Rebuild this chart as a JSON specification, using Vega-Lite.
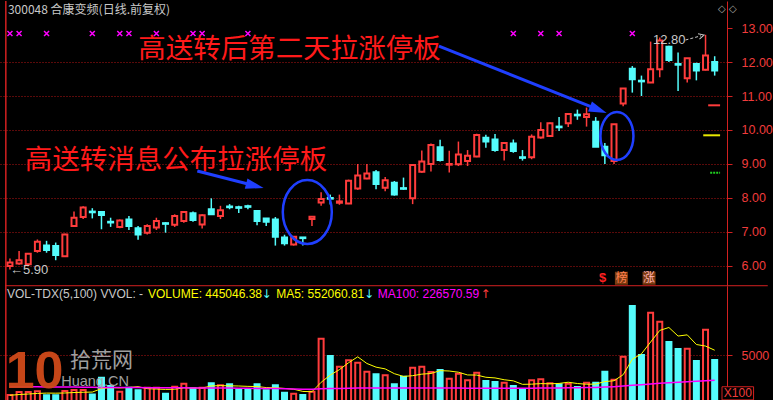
{
"$schema": "https://vega.github.io/schema/vega-lite/v6.json",
"background": "#000000",
"padding": 0,
"autosize": {"type": "pad"},
"spacing": 0,
"bounds": "flush",
"config": {"view": {"stroke": null}, "concat": {"spacing": 0}},
"datasets": {"k": [
{"i":0,"o":6.00,"h":6.22,"l":5.90,"c":6.10,"v":65000,"ma5":62000,"ma100":155000,"flag":1},
{"i":1,"o":6.07,"h":6.44,"l":6.04,"c":6.17,"v":98000,"ma5":70000,"ma100":155000,"flag":1},
{"i":2,"o":6.05,"h":6.38,"l":6.03,"c":6.36,"v":98000,"ma5":76000,"ma100":154000,"flag":0},
{"i":3,"o":6.44,"h":6.78,"l":6.39,"c":6.71,"v":105000,"ma5":82000,"ma100":154000,"flag":0},
{"i":4,"o":6.60,"h":6.74,"l":6.39,"c":6.47,"v":62000,"ma5":86000,"ma100":153000,"flag":1},
{"i":5,"o":6.59,"h":6.69,"l":6.17,"c":6.32,"v":62000,"ma5":85000,"ma100":152000,"flag":0},
{"i":6,"o":6.29,"h":6.95,"l":6.28,"c":6.93,"v":109000,"ma5":87000,"ma100":152000,"flag":0},
{"i":7,"o":7.18,"h":7.60,"l":7.17,"c":7.42,"v":120000,"ma5":92000,"ma100":151000,"flag":0},
{"i":8,"o":7.44,"h":7.76,"l":7.38,"c":7.72,"v":120000,"ma5":95000,"ma100":150000,"flag":0},
{"i":9,"o":7.60,"h":7.70,"l":7.40,"c":7.58,"v":72000,"ma5":97000,"ma100":149000,"flag":1},
{"i":10,"o":7.59,"h":7.60,"l":7.08,"c":7.50,"v":253000,"ma5":135000,"ma100":148000,"flag":0},
{"i":11,"o":7.30,"h":7.42,"l":7.15,"c":7.28,"v":163000,"ma5":146000,"ma100":148000,"flag":0},
{"i":12,"o":7.15,"h":7.37,"l":7.11,"c":7.34,"v":101000,"ma5":142000,"ma100":147000,"flag":1},
{"i":13,"o":7.37,"h":7.47,"l":7.06,"c":7.18,"v":145000,"ma5":147000,"ma100":147000,"flag":1},
{"i":14,"o":7.11,"h":7.18,"l":6.77,"c":6.93,"v":116000,"ma5":156000,"ma100":146000,"flag":0},
{"i":15,"o":6.98,"h":7.23,"l":6.93,"c":7.18,"v":145000,"ma5":134000,"ma100":145000,"flag":0},
{"i":16,"o":7.13,"h":7.42,"l":7.06,"c":7.32,"v":145000,"ma5":130000,"ma100":145000,"flag":1},
{"i":17,"o":7.26,"h":7.29,"l":6.98,"c":7.24,"v":80000,"ma5":126000,"ma100":144000,"flag":0},
{"i":18,"o":7.21,"h":7.52,"l":7.15,"c":7.47,"v":156000,"ma5":128000,"ma100":144000,"flag":0},
{"i":19,"o":7.32,"h":7.62,"l":7.27,"c":7.59,"v":188000,"ma5":143000,"ma100":143000,"flag":0},
{"i":20,"o":7.55,"h":7.60,"l":7.30,"c":7.35,"v":138000,"ma5":141000,"ma100":142000,"flag":1},
{"i":21,"o":7.22,"h":7.52,"l":7.10,"c":7.49,"v":145000,"ma5":141000,"ma100":142000,"flag":1},
{"i":22,"o":7.67,"h":7.99,"l":7.50,"c":7.52,"v":192000,"ma5":164000,"ma100":141000,"flag":0},
{"i":23,"o":7.47,"h":7.77,"l":7.38,"c":7.64,"v":170000,"ma5":167000,"ma100":140000,"flag":0},
{"i":24,"o":7.75,"h":7.82,"l":7.67,"c":7.73,"v":181000,"ma5":165000,"ma100":140000,"flag":0},
{"i":25,"o":7.73,"h":7.77,"l":7.56,"c":7.71,"v":127000,"ma5":163000,"ma100":139000,"flag":0},
{"i":26,"o":7.76,"h":7.80,"l":7.67,"c":7.74,"v":127000,"ma5":159000,"ma100":138000,"flag":1},
{"i":27,"o":7.62,"h":7.63,"l":7.20,"c":7.32,"v":181000,"ma5":157000,"ma100":137000,"flag":0},
{"i":28,"o":7.40,"h":7.41,"l":7.18,"c":7.30,"v":116000,"ma5":146000,"ma100":136000,"flag":0},
{"i":29,"o":7.37,"h":7.44,"l":6.60,"c":6.86,"v":170000,"ma5":144000,"ma100":135000,"flag":0},
{"i":30,"o":6.84,"h":6.92,"l":6.60,"c":6.67,"v":91000,"ma5":137000,"ma100":133000,"flag":0},
{"i":31,"o":6.63,"h":6.87,"l":6.60,"c":6.86,"v":80000,"ma5":128000,"ma100":131000,"flag":0},
{"i":32,"o":6.84,"h":6.85,"l":6.60,"c":6.82,"v":65000,"ma5":104000,"ma100":129000,"flag":0},
{"i":33,"o":7.38,"h":7.45,"l":7.18,"c":7.45,"v":100000,"ma5":101000,"ma100":128000,"flag":0},
{"i":34,"o":7.87,"h":8.17,"l":7.77,"c":7.97,"v":677000,"ma5":203000,"ma100":132000,"flag":0},
{"i":35,"o":8.00,"h":8.10,"l":7.81,"c":7.98,"v":489000,"ma5":282000,"ma100":135000,"flag":0},
{"i":36,"o":7.86,"h":8.10,"l":7.80,"c":7.90,"v":373000,"ma5":341000,"ma100":137000,"flag":0},
{"i":37,"o":7.84,"h":8.54,"l":7.82,"c":8.51,"v":442000,"ma5":416000,"ma100":139000,"flag":0},
{"i":38,"o":8.28,"h":9.00,"l":8.24,"c":8.66,"v":417000,"ma5":480000,"ma100":140000,"flag":0},
{"i":39,"o":8.57,"h":9.00,"l":8.55,"c":8.72,"v":319000,"ma5":408000,"ma100":141000,"flag":0},
{"i":40,"o":8.76,"h":8.82,"l":8.26,"c":8.41,"v":290000,"ma5":368000,"ma100":141000,"flag":0},
{"i":41,"o":8.30,"h":8.62,"l":8.20,"c":8.52,"v":279000,"ma5":349000,"ma100":141000,"flag":0},
{"i":42,"o":8.45,"h":8.50,"l":8.07,"c":8.10,"v":181000,"ma5":297000,"ma100":141000,"flag":0},
{"i":43,"o":8.29,"h":8.60,"l":8.24,"c":8.27,"v":264000,"ma5":267000,"ma100":141000,"flag":0},
{"i":44,"o":7.99,"h":9.00,"l":7.82,"c":8.97,"v":362000,"ma5":275000,"ma100":141000,"flag":0},
{"i":45,"o":8.77,"h":9.40,"l":8.74,"c":9.07,"v":373000,"ma5":292000,"ma100":141000,"flag":0},
{"i":46,"o":9.00,"h":9.60,"l":8.78,"c":9.56,"v":315000,"ma5":299000,"ma100":140000,"flag":0},
{"i":47,"o":9.49,"h":9.71,"l":9.07,"c":9.12,"v":337000,"ma5":330000,"ma100":140000,"flag":0},
{"i":48,"o":8.98,"h":9.39,"l":8.75,"c":9.00,"v":242000,"ma5":326000,"ma100":140000,"flag":0},
{"i":49,"o":8.99,"h":9.66,"l":8.94,"c":9.28,"v":297000,"ma5":313000,"ma100":140000,"flag":0},
{"i":50,"o":9.09,"h":9.41,"l":8.94,"c":9.24,"v":225000,"ma5":283000,"ma100":139000,"flag":0},
{"i":51,"o":9.22,"h":9.89,"l":9.20,"c":9.85,"v":308000,"ma5":282000,"ma100":139000,"flag":0},
{"i":52,"o":9.77,"h":9.86,"l":9.48,"c":9.66,"v":217000,"ma5":258000,"ma100":139000,"flag":0},
{"i":53,"o":9.72,"h":9.88,"l":9.36,"c":9.41,"v":207000,"ma5":251000,"ma100":138000,"flag":0},
{"i":54,"o":9.41,"h":9.64,"l":9.10,"c":9.62,"v":199000,"ma5":231000,"ma100":138000,"flag":0},
{"i":55,"o":9.60,"h":9.72,"l":9.33,"c":9.38,"v":163000,"ma5":219000,"ma100":138000,"flag":1},
{"i":56,"o":9.20,"h":9.41,"l":9.10,"c":9.18,"v":120000,"ma5":181000,"ma100":138000,"flag":0},
{"i":57,"o":9.20,"h":9.87,"l":9.14,"c":9.80,"v":225000,"ma5":183000,"ma100":139000,"flag":0},
{"i":58,"o":9.78,"h":10.23,"l":9.74,"c":10.00,"v":236000,"ma5":189000,"ma100":140000,"flag":1},
{"i":59,"o":9.82,"h":10.22,"l":9.80,"c":10.20,"v":192000,"ma5":187000,"ma100":141000,"flag":0},
{"i":60,"o":10.10,"h":10.38,"l":9.97,"c":10.08,"v":181000,"ma5":191000,"ma100":142000,"flag":1},
{"i":61,"o":10.20,"h":10.48,"l":10.09,"c":10.47,"v":188000,"ma5":204000,"ma100":143000,"flag":0},
{"i":62,"o":10.45,"h":10.60,"l":10.30,"c":10.43,"v":152000,"ma5":190000,"ma100":145000,"flag":0},
{"i":63,"o":10.38,"h":10.66,"l":10.10,"c":10.46,"v":199000,"ma5":182000,"ma100":146000,"flag":0},
{"i":64,"o":10.24,"h":10.38,"l":9.50,"c":9.51,"v":199000,"ma5":184000,"ma100":148000,"flag":0},
{"i":65,"o":9.51,"h":9.62,"l":9.00,"c":9.26,"v":319000,"ma5":211000,"ma100":152000,"flag":0},
{"i":66,"o":9.09,"h":10.18,"l":9.00,"c":10.17,"v":232000,"ma5":220000,"ma100":156000,"flag":0},
{"i":67,"o":10.78,"h":11.23,"l":10.70,"c":11.22,"v":482000,"ma5":286000,"ma100":162000,"flag":0},
{"i":68,"o":11.80,"h":11.88,"l":11.10,"c":11.49,"v":1033000,"ma5":453000,"ma100":170000,"flag":1},
{"i":69,"o":11.45,"h":11.60,"l":11.00,"c":11.43,"v":500000,"ma5":513000,"ma100":176000,"flag":0},
{"i":70,"o":11.40,"h":12.60,"l":11.38,"c":11.79,"v":960000,"ma5":641000,"ma100":184000,"flag":0},
{"i":71,"o":11.79,"h":12.72,"l":11.55,"c":12.63,"v":862000,"ma5":767000,"ma100":192000,"flag":0},
{"i":72,"o":12.45,"h":12.48,"l":12.00,"c":12.06,"v":641000,"ma5":799000,"ma100":199000,"flag":0},
{"i":73,"o":11.94,"h":12.28,"l":11.15,"c":11.92,"v":565000,"ma5":706000,"ma100":205000,"flag":0},
{"i":74,"o":11.52,"h":12.12,"l":11.40,"c":12.11,"v":569000,"ma5":719000,"ma100":210000,"flag":0},
{"i":75,"o":11.94,"h":11.98,"l":11.46,"c":11.75,"v":435000,"ma5":614000,"ma100":215000,"flag":0},
{"i":76,"o":11.77,"h":12.80,"l":11.75,"c":12.19,"v":775000,"ma5":597000,"ma100":221000,"flag":0},
{"i":77,"o":12.00,"h":12.17,"l":11.60,"c":11.75,"v":445046,"ma5":552061,"ma100":226571,"flag":0}
]},
"vconcat": [
{
"width": 727, "height": 285,
"data": {"name": "k"},
"layer": [
 {"mark": {"type": "rule", "strokeWidth": 1.5},
  "encoding": {
   "x": {"field": "i", "type": "quantitative", "scale": {"domain": [-0.54, 77.8], "nice": false, "zero": false}, "axis": null},
   "y": {"field": "l", "type": "quantitative", "scale": {"domain": [5.41176, 13.79412], "nice": false, "zero": false},
     "axis": {"orient": "right", "values": [6,7,8,9,10,11,12,13], "format": ".2f", "title": null, "labelColor": "#F03C3C", "labelFont": "Liberation Sans", "labelFontSize": 12.5, "labelPadding": 9, "labelFlush": false, "labelOverlap": false, "tickColor": "#D22020", "tickSize": 5, "domainColor": "#D22020", "grid": true, "gridColor": {"condition": {"test": "datum.value >= 13", "value": "rgba(0,0,0,0)"}, "value": "#B41414"}, "gridDash": [1, 2]}},
   "y2": {"field": "h"},
   "color": {"condition": {"test": "datum.c > datum.o", "value": "#FF3C3C"}, "value": "#54FCFC"}
  }},
 {"mark": {"type": "bar", "size": 5, "strokeWidth": 2},
  "encoding": {
   "x": {"field": "i", "type": "quantitative", "scale": {"domain": [-0.54, 77.8], "nice": false, "zero": false}, "axis": null},
   "y": {"field": "o", "type": "quantitative", "scale": {"domain": [5.41176, 13.79412], "nice": false, "zero": false}},
   "y2": {"field": "c"},
   "fill": {"condition": {"test": "datum.c > datum.o", "value": "#000000"}, "value": "#54FCFC"},
   "stroke": {"condition": {"test": "datum.c > datum.o", "value": "#FF3C3C"}, "value": "#54FCFC"}
  }},
 {"transform": [{"filter": "datum.flag == 1"}],
  "mark": {"type": "point", "shape": "M -1 -1 L 1 1 M -1 1 L 1 -1", "size": 25, "filled": false, "stroke": "#FF00FF", "strokeWidth": 1.5, "opacity": 1},
  "encoding": {
   "x": {"field": "i", "type": "quantitative", "scale": {"domain": [-0.54, 77.8], "nice": false, "zero": false}, "axis": null},
   "y": {"datum": 12.84, "type": "quantitative", "scale": {"domain": [5.41176, 13.79412], "nice": false, "zero": false}}
  }},
 {"data": {"values": [{}]},
  "mark": {"type": "rule", "color": "#D22020", "strokeWidth": 1.5},
  "encoding": {"x": {"datum": -0.45, "type": "quantitative", "scale": {"domain": [-0.54, 77.8], "nice": false, "zero": false}, "axis": null}}},
 {"data": {"values": [{}]},
  "mark": {"type": "rule", "color": "#D22020", "strokeWidth": 1},
  "encoding": {
   "x": {"datum": -0.54, "type": "quantitative", "scale": {"domain": [-0.54, 77.8], "nice": false, "zero": false}, "axis": null},
   "x2": {"datum": 82.8},
   "y": {"datum": 5.42, "type": "quantitative", "scale": {"domain": [5.41176, 13.79412], "nice": false, "zero": false}}
  }},
 {"data": {"values": [{}]},
  "mark": {"type": "text", "text": "高送转后第二天拉涨停板", "font": "Noto Sans CJK SC", "fontSize": 27.5, "color": "#FF1A1A", "align": "left", "baseline": "middle"},
  "encoding": {
   "x": {"datum": 14.01, "type": "quantitative", "scale": {"domain": [-0.54, 77.8], "nice": false, "zero": false}, "axis": null},
   "y": {"datum": 12.353, "type": "quantitative", "scale": {"domain": [5.41176, 13.79412], "nice": false, "zero": false}}
  }},
 {"data": {"values": [{}]},
  "mark": {"type": "text", "text": "高送转消息公布拉涨停板", "font": "Noto Sans CJK SC", "fontSize": 27.5, "color": "#FF1A1A", "align": "left", "baseline": "middle"},
  "encoding": {
   "x": {"datum": 1.62, "type": "quantitative", "scale": {"domain": [-0.54, 77.8], "nice": false, "zero": false}, "axis": null},
   "y": {"datum": 9.088, "type": "quantitative", "scale": {"domain": [5.41176, 13.79412], "nice": false, "zero": false}}
  }},
 {"data": {"values": [{}]},
  "mark": {"type": "rule", "color": "#1F3FFF", "strokeWidth": 3},
  "encoding": {
   "x": {"datum": 20.47, "type": "quantitative", "scale": {"domain": [-0.54, 77.8], "nice": false, "zero": false}, "axis": null},
   "x2": {"datum": 26.76},
   "y": {"datum": 8.794, "type": "quantitative", "scale": {"domain": [5.41176, 13.79412], "nice": false, "zero": false}},
   "y2": {"datum": 8.359}
  }},
 {"data": {"values": [{}]},
  "mark": {"type": "point", "shape": "M 1 0 L -1 -0.6 L -1 0.6 Z", "size": 324, "angle": 14, "filled": true, "fill": "#1F3FFF", "stroke": null, "opacity": 1},
  "encoding": {
   "x": {"datum": 26.76, "type": "quantitative", "scale": {"domain": [-0.54, 77.8], "nice": false, "zero": false}, "axis": null},
   "y": {"datum": 8.359, "type": "quantitative", "scale": {"domain": [5.41176, 13.79412], "nice": false, "zero": false}}
  }},
 {"data": {"values": [{}]},
  "mark": {"type": "rule", "color": "#1F3FFF", "strokeWidth": 3},
  "encoding": {
   "x": {"datum": 46.87, "type": "quantitative", "scale": {"domain": [-0.54, 77.8], "nice": false, "zero": false}, "axis": null},
   "x2": {"datum": 64.29},
   "y": {"datum": 12.47, "type": "quantitative", "scale": {"domain": [5.41176, 13.79412], "nice": false, "zero": false}},
   "y2": {"datum": 10.597}
  }},
 {"data": {"values": [{}]},
  "mark": {"type": "point", "shape": "M 1 0 L -1 -0.6 L -1 0.6 Z", "size": 324, "angle": 21.5, "filled": true, "fill": "#1F3FFF", "stroke": null, "opacity": 1},
  "encoding": {
   "x": {"datum": 64.29, "type": "quantitative", "scale": {"domain": [-0.54, 77.8], "nice": false, "zero": false}, "axis": null},
   "y": {"datum": 10.597, "type": "quantitative", "scale": {"domain": [5.41176, 13.79412], "nice": false, "zero": false}}
  }},
 {"data": {"values": [{}]},
  "mark": {"type": "point", "shape": "M 0.766 0 C 0.766 0.552 0.423 1 0 1 C -0.423 1 -0.766 0.552 -0.766 0 C -0.766 -0.552 -0.423 -1 0 -1 C 0.423 -1 0.766 -0.552 0.766 0 Z", "size": 4096, "filled": false, "stroke": "#1F3FFF", "strokeWidth": 2.5, "opacity": 1},
  "encoding": {
   "x": {"datum": 32.49, "type": "quantitative", "scale": {"domain": [-0.54, 77.8], "nice": false, "zero": false}, "axis": null},
   "y": {"datum": 7.588, "type": "quantitative", "scale": {"domain": [5.41176, 13.79412], "nice": false, "zero": false}}
  }},
 {"data": {"values": [{}]},
  "mark": {"type": "point", "shape": "M 0.688 0 C 0.688 0.552 0.38 1 0 1 C -0.38 1 -0.688 0.552 -0.688 0 C -0.688 -0.552 -0.38 -1 0 -1 C 0.38 -1 0.688 -0.552 0.688 0 Z", "size": 2304, "filled": false, "stroke": "#1F3FFF", "strokeWidth": 2.5, "opacity": 1},
  "encoding": {
   "x": {"datum": 66.32, "type": "quantitative", "scale": {"domain": [-0.54, 77.8], "nice": false, "zero": false}, "axis": null},
   "y": {"datum": 9.824, "type": "quantitative", "scale": {"domain": [5.41176, 13.79412], "nice": false, "zero": false}}
  }},
 {"data": {"values": [{}]},
  "mark": {"type": "text", "text": "12.80", "font": "Liberation Sans", "fontSize": 13, "color": "#C8C8C8", "align": "left", "baseline": "middle"},
  "encoding": {
   "x": {"datum": 70.26, "type": "quantitative", "scale": {"domain": [-0.54, 77.8], "nice": false, "zero": false}, "axis": null},
   "y": {"datum": 12.647, "type": "quantitative", "scale": {"domain": [5.41176, 13.79412], "nice": false, "zero": false}}
  }},
 {"data": {"values": [{}]},
  "mark": {"type": "rule", "color": "#C8C8C8", "strokeWidth": 1, "strokeDash": [3, 2]},
  "encoding": {
   "x": {"datum": 73.81, "type": "quantitative", "scale": {"domain": [-0.54, 77.8], "nice": false, "zero": false}, "axis": null},
   "x2": {"datum": 75.5},
   "y": {"datum": 12.647, "type": "quantitative", "scale": {"domain": [5.41176, 13.79412], "nice": false, "zero": false}},
   "y2": {"datum": 12.77}
  }},
 {"data": {"values": [{}]},
  "mark": {"type": "point", "shape": "M -1 -1 L 1 0 L -1 1", "size": 30, "angle": -15, "filled": false, "stroke": "#C8C8C8", "strokeWidth": 1, "opacity": 1},
  "encoding": {
   "x": {"datum": 75.55, "type": "quantitative", "scale": {"domain": [-0.54, 77.8], "nice": false, "zero": false}, "axis": null},
   "y": {"datum": 12.775, "type": "quantitative", "scale": {"domain": [5.41176, 13.79412], "nice": false, "zero": false}}
  }},
 {"data": {"values": [{}]},
  "mark": {"type": "text", "text": "←5.90", "font": "Liberation Sans", "fontSize": 13, "color": "#C8C8C8", "align": "left", "baseline": "middle"},
  "encoding": {
   "x": {"datum": 0.0, "type": "quantitative", "scale": {"domain": [-0.54, 77.8], "nice": false, "zero": false}, "axis": null},
   "y": {"datum": 5.882, "type": "quantitative", "scale": {"domain": [5.41176, 13.79412], "nice": false, "zero": false}}
  }},
 {"data": {"values": [{}]},
  "mark": {"type": "text", "text": "300048 合康变频(日线.前复权)", "font": "Noto Sans CJK SC", "fontSize": 12, "color": "#C8C8C8", "align": "left", "baseline": "middle"},
  "encoding": {
   "x": {"datum": -0.22, "type": "quantitative", "scale": {"domain": [-0.54, 77.8], "nice": false, "zero": false}, "axis": null},
   "y": {"datum": 13.529, "type": "quantitative", "scale": {"domain": [5.41176, 13.79412], "nice": false, "zero": false}}
  }},
 {"data": {"values": [{}]},
  "mark": {"type": "text", "text": "◇ ◇", "font": "DejaVu Sans", "fontSize": 10, "color": "#A0A0A0", "align": "left", "baseline": "middle"},
  "encoding": {
   "x": {"datum": 77.37, "type": "quantitative", "scale": {"domain": [-0.54, 77.8], "nice": false, "zero": false}, "axis": null},
   "y": {"datum": 13.56, "type": "quantitative", "scale": {"domain": [5.41176, 13.79412], "nice": false, "zero": false}}
  }},
 {"data": {"values": [{}]},
  "mark": {"type": "text", "text": "$", "font": "Liberation Sans", "fontSize": 13, "fontWeight": "bold", "color": "#FF2020", "align": "center", "baseline": "middle"},
  "encoding": {
   "x": {"datum": 64.76, "type": "quantitative", "scale": {"domain": [-0.54, 77.8], "nice": false, "zero": false}, "axis": null},
   "y": {"datum": 5.64, "type": "quantitative", "scale": {"domain": [5.41176, 13.79412], "nice": false, "zero": false}}
  }},
 {"data": {"values": [{}]},
  "mark": {"type": "point", "shape": "square", "size": 169, "filled": true, "fill": "#7A3B10", "stroke": null, "opacity": 1},
  "encoding": {
   "x": {"datum": 66.81, "type": "quantitative", "scale": {"domain": [-0.54, 77.8], "nice": false, "zero": false}, "axis": null},
   "y": {"datum": 5.64, "type": "quantitative", "scale": {"domain": [5.41176, 13.79412], "nice": false, "zero": false}}
  }},
 {"data": {"values": [{}]},
  "mark": {"type": "point", "shape": "square", "size": 169, "filled": true, "fill": "#7A3B10", "stroke": null, "opacity": 1},
  "encoding": {
   "x": {"datum": 69.83, "type": "quantitative", "scale": {"domain": [-0.54, 77.8], "nice": false, "zero": false}, "axis": null},
   "y": {"datum": 5.64, "type": "quantitative", "scale": {"domain": [5.41176, 13.79412], "nice": false, "zero": false}}
  }},
 {"data": {"values": [{}]},
  "mark": {"type": "text", "text": "榜", "font": "Noto Sans CJK SC", "fontSize": 12, "color": "#FF8050", "align": "center", "baseline": "middle"},
  "encoding": {
   "x": {"datum": 66.81, "type": "quantitative", "scale": {"domain": [-0.54, 77.8], "nice": false, "zero": false}, "axis": null},
   "y": {"datum": 5.64, "type": "quantitative", "scale": {"domain": [5.41176, 13.79412], "nice": false, "zero": false}}
  }},
 {"data": {"values": [{}]},
  "mark": {"type": "text", "text": "涨", "font": "Noto Sans CJK SC", "fontSize": 12, "color": "#FFB0B0", "align": "center", "baseline": "middle"},
  "encoding": {
   "x": {"datum": 69.83, "type": "quantitative", "scale": {"domain": [-0.54, 77.8], "nice": false, "zero": false}, "axis": null},
   "y": {"datum": 5.64, "type": "quantitative", "scale": {"domain": [5.41176, 13.79412], "nice": false, "zero": false}}
  }},
 {"data": {"values": [{}]},
  "mark": {"type": "rule", "color": "#FF3C3C", "strokeWidth": 2},
  "encoding": {
   "x": {"datum": 76.29, "type": "quantitative", "scale": {"domain": [-0.54, 77.8], "nice": false, "zero": false}, "axis": null},
   "x2": {"datum": 77.59},
   "y": {"datum": 10.726, "type": "quantitative", "scale": {"domain": [5.41176, 13.79412], "nice": false, "zero": false}}
  }},
 {"data": {"values": [{}]},
  "mark": {"type": "rule", "color": "#E8E800", "strokeWidth": 2},
  "encoding": {
   "x": {"datum": 75.75, "type": "quantitative", "scale": {"domain": [-0.54, 77.8], "nice": false, "zero": false}, "axis": null},
   "x2": {"datum": 77.59},
   "y": {"datum": 9.844, "type": "quantitative", "scale": {"domain": [5.41176, 13.79412], "nice": false, "zero": false}}
  }},
 {"data": {"values": [{}]},
  "mark": {"type": "rule", "color": "#20D020", "strokeWidth": 2, "strokeDash": [2, 1]},
  "encoding": {
   "x": {"datum": 76.51, "type": "quantitative", "scale": {"domain": [-0.54, 77.8], "nice": false, "zero": false}, "axis": null},
   "x2": {"datum": 77.59},
   "y": {"datum": 8.744, "type": "quantitative", "scale": {"domain": [5.41176, 13.79412], "nice": false, "zero": false}}
  }}
]
},
{
"width": 727, "height": 115,
"data": {"name": "k"},
"layer": [
 {"mark": {"type": "bar", "size": 5, "strokeWidth": 2, "clip": true},
  "encoding": {
   "x": {"field": "i", "type": "quantitative", "scale": {"domain": [-0.54, 77.8], "nice": false, "zero": false}, "axis": null},
   "y": {"field": "v", "type": "quantitative", "scale": {"domain": [0, 1250000], "nice": false, "zero": false},
     "axis": {"orient": "right", "values": [500000], "labelExpr": "'5000'", "title": null, "labelColor": "#F03C3C", "labelFont": "Liberation Sans", "labelFontSize": 12.5, "labelPadding": 9, "labelFlush": false, "tickColor": "#D22020", "tickSize": 5, "domainColor": "#D22020", "grid": true, "gridColor": "#B41414", "gridDash": [1, 2]}},
   "fill": {"condition": {"test": "datum.c > datum.o", "value": "#000000"}, "value": "#54FCFC"},
   "stroke": {"condition": {"test": "datum.c > datum.o", "value": "#FF3C3C"}, "value": "#54FCFC"}
  }},
 {"mark": {"type": "line", "color": "#FFFF00", "strokeWidth": 1},
  "encoding": {
   "x": {"field": "i", "type": "quantitative", "scale": {"domain": [-0.54, 77.8], "nice": false, "zero": false}, "axis": null},
   "y": {"field": "ma5", "type": "quantitative", "scale": {"domain": [0, 1250000], "nice": false, "zero": false}}
  }},
 {"mark": {"type": "line", "color": "#FF00FF", "strokeWidth": 1.5},
  "encoding": {
   "x": {"field": "i", "type": "quantitative", "scale": {"domain": [-0.54, 77.8], "nice": false, "zero": false}, "axis": null},
   "y": {"field": "ma100", "type": "quantitative", "scale": {"domain": [0, 1250000], "nice": false, "zero": false}}
  }},
 {"data": {"values": [{}]},
  "mark": {"type": "rule", "color": "#D22020", "strokeWidth": 1.5},
  "encoding": {"x": {"datum": -0.45, "type": "quantitative", "scale": {"domain": [-0.54, 77.8], "nice": false, "zero": false}, "axis": null}}},
 {"data": {"values": [{}]},
  "mark": {"type": "text", "text": "VOL-TDX(5,100) VVOL: -", "font": "Liberation Sans", "fontSize": 12, "color": "#C8C8C8", "align": "left", "baseline": "middle"},
  "encoding": {
   "x": {"datum": -0.32, "type": "quantitative", "scale": {"domain": [-0.54, 77.8], "nice": false, "zero": false}, "axis": null},
   "y": {"datum": 1163000, "type": "quantitative", "scale": {"domain": [0, 1250000], "nice": false, "zero": false}}
  }},
 {"data": {"values": [{}]},
  "mark": {"type": "text", "text": "VOLUME: 445046.38", "font": "Liberation Sans", "fontSize": 12, "color": "#FFFF00", "align": "left", "baseline": "middle"},
  "encoding": {
   "x": {"datum": 15.08, "type": "quantitative", "scale": {"domain": [-0.54, 77.8], "nice": false, "zero": false}, "axis": null},
   "y": {"datum": 1163000, "type": "quantitative", "scale": {"domain": [0, 1250000], "nice": false, "zero": false}}
  }},
 {"data": {"values": [{}]},
  "mark": {"type": "text", "text": "↓", "font": "DejaVu Sans", "fontSize": 12, "color": "#54FCFC", "align": "left", "baseline": "middle"},
  "encoding": {
   "x": {"datum": 27.48, "type": "quantitative", "scale": {"domain": [-0.54, 77.8], "nice": false, "zero": false}, "axis": null},
   "y": {"datum": 1163000, "type": "quantitative", "scale": {"domain": [0, 1250000], "nice": false, "zero": false}}
  }},
 {"data": {"values": [{}]},
  "mark": {"type": "text", "text": "MA5: 552060.81", "font": "Liberation Sans", "fontSize": 12, "color": "#FFFF00", "align": "left", "baseline": "middle"},
  "encoding": {
   "x": {"datum": 29.09, "type": "quantitative", "scale": {"domain": [-0.54, 77.8], "nice": false, "zero": false}, "axis": null},
   "y": {"datum": 1163000, "type": "quantitative", "scale": {"domain": [0, 1250000], "nice": false, "zero": false}}
  }},
 {"data": {"values": [{}]},
  "mark": {"type": "text", "text": "↓", "font": "DejaVu Sans", "fontSize": 12, "color": "#54FCFC", "align": "left", "baseline": "middle"},
  "encoding": {
   "x": {"datum": 38.68, "type": "quantitative", "scale": {"domain": [-0.54, 77.8], "nice": false, "zero": false}, "axis": null},
   "y": {"datum": 1163000, "type": "quantitative", "scale": {"domain": [0, 1250000], "nice": false, "zero": false}}
  }},
 {"data": {"values": [{}]},
  "mark": {"type": "text", "text": "MA100: 226570.59", "font": "Liberation Sans", "fontSize": 12, "color": "#FF00FF", "align": "left", "baseline": "middle"},
  "encoding": {
   "x": {"datum": 40.19, "type": "quantitative", "scale": {"domain": [-0.54, 77.8], "nice": false, "zero": false}, "axis": null},
   "y": {"datum": 1163000, "type": "quantitative", "scale": {"domain": [0, 1250000], "nice": false, "zero": false}}
  }},
 {"data": {"values": [{}]},
  "mark": {"type": "text", "text": "↑", "font": "DejaVu Sans", "fontSize": 12, "color": "#FF3C3C", "align": "left", "baseline": "middle"},
  "encoding": {
   "x": {"datum": 51.4, "type": "quantitative", "scale": {"domain": [-0.54, 77.8], "nice": false, "zero": false}, "axis": null},
   "y": {"datum": 1163000, "type": "quantitative", "scale": {"domain": [0, 1250000], "nice": false, "zero": false}}
  }},
 {"data": {"values": [{}]},
  "mark": {"type": "text", "text": "10", "font": "Liberation Sans Narrow, Liberation Sans", "fontSize": 52, "fontWeight": "bold", "color": "#D04A1A", "align": "center", "baseline": "bottom", "opacity": 0.95},
  "encoding": {
   "x": {"datum": 2.69, "type": "quantitative", "scale": {"domain": [-0.54, 77.8], "nice": false, "zero": false}, "axis": null},
   "y": {"datum": 25000, "type": "quantitative", "scale": {"domain": [0, 1250000], "nice": false, "zero": false}}
  }},
 {"data": {"values": [{}]},
  "mark": {"type": "text", "text": "拾荒网", "font": "Noto Sans CJK SC", "fontSize": 21, "color": "#A8A8A8", "align": "left", "baseline": "middle", "opacity": 0.95},
  "encoding": {
   "x": {"datum": 6.57, "type": "quantitative", "scale": {"domain": [-0.54, 77.8], "nice": false, "zero": false}, "axis": null},
   "y": {"datum": 435000, "type": "quantitative", "scale": {"domain": [0, 1250000], "nice": false, "zero": false}}
  }},
 {"data": {"values": [{}]},
  "mark": {"type": "text", "text": "Huang.CN", "font": "Liberation Sans", "fontSize": 14.5, "color": "#A8A8A8", "align": "left", "baseline": "middle", "opacity": 0.95},
  "encoding": {
   "x": {"datum": 5.6, "type": "quantitative", "scale": {"domain": [-0.54, 77.8], "nice": false, "zero": false}, "axis": null},
   "y": {"datum": 206000, "type": "quantitative", "scale": {"domain": [0, 1250000], "nice": false, "zero": false}}
  }},
 {"data": {"values": [{}]},
  "mark": {"type": "rect", "fill": "#000000", "stroke": "#D22020", "strokeWidth": 1},
  "encoding": {
   "x": {"datum": 77.8, "type": "quantitative", "scale": {"domain": [-0.54, 77.8], "nice": false, "zero": false}, "axis": null},
   "x2": {"datum": 81.25},
   "y": {"datum": 155000, "type": "quantitative", "scale": {"domain": [0, 1250000], "nice": false, "zero": false}},
   "y2": {"datum": 12000}
  }},
 {"data": {"values": [{}]},
  "mark": {"type": "text", "text": "X100", "font": "Liberation Sans", "fontSize": 12, "color": "#F03C3C", "align": "center", "baseline": "middle"},
  "encoding": {
   "x": {"datum": 79.53, "type": "quantitative", "scale": {"domain": [-0.54, 77.8], "nice": false, "zero": false}, "axis": null},
   "y": {"datum": 90000, "type": "quantitative", "scale": {"domain": [0, 1250000], "nice": false, "zero": false}}
  }}
]
}
]
}
